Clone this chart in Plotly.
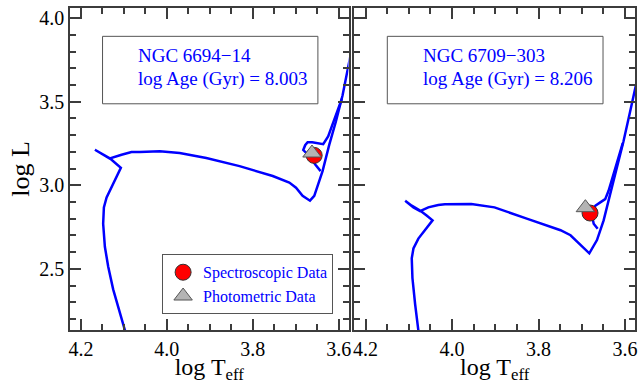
import plotly.graph_objects as go

# ---------------- data ----------------
panel_titles = ["NGC 6694\u221214", "NGC 6709\u2212303"]
panel_ages = ["8.003", "8.206"]

# NGC 6694-14 isochrone: main sequence -> hook -> Hertzsprung gap -> red giant branch
iso1_main_logT = [4.094, 4.0979, 4.1095, 4.125, 4.1366, 4.1443, 4.1483, 4.1466, 4.1403, 4.1287,
                  4.1171, 4.1071, 4.1287, 4.1489, 4.1675, 4.1536, 4.1327, 4.1055, 4.0823, 4.063,
                  4.0166, 3.9702, 3.9082, 3.8308, 3.7535, 3.7149, 3.6993, 3.684, 3.6668, 3.6568,
                  3.6529, 3.6375, 3.622, 3.6066, 3.591, 3.574, 3.563]
iso1_main_logL = [2.10, 2.135, 2.239, 2.377, 2.514, 2.632, 2.770, 2.868, 2.927, 2.986,
                  3.045, 3.105, 3.153, 3.184, 3.2125, 3.19, 3.161, 3.183, 3.199, 3.199,
                  3.203, 3.193, 3.1635, 3.1145, 3.0555, 3.016, 2.986, 2.937, 2.908, 2.937,
                  2.967, 3.085, 3.242, 3.380, 3.537, 3.754, 3.90]
# NGC 6694-14 isochrone: core helium burning loop -> early AGB
iso1_heb_logT = [3.642, 3.654, 3.668, 3.6824, 3.678, 3.6723, 3.6615, 3.6476, 3.636, 3.6245,
                 3.6129, 3.5925]
iso1_heb_logL = [3.085, 3.123, 3.175, 3.211, 3.240, 3.258, 3.258, 3.252, 3.246, 3.293,
                 3.376, 3.518]

# NGC 6709-303 isochrone: main sequence -> hook -> Hertzsprung gap -> red giant branch
iso2_main_logT = [4.075, 4.0778, 4.0853, 4.0915, 4.0931, 4.0892, 4.0778, 4.0624, 4.0472, 4.045,
                  4.0587, 4.0739, 4.0931, 4.1083, 4.0892, 4.0739, 4.0548, 4.0319, 4.0165, 3.9555,
                  3.9018, 3.8255, 3.7491, 3.7261, 3.7032, 3.6826, 3.6649, 3.6495, 3.6344, 3.619,
                  3.6037, 3.5885, 3.5755, 3.562]
iso2_main_logL = [2.10, 2.131, 2.288, 2.445, 2.563, 2.622, 2.681, 2.731, 2.780, 2.790,
                  2.819, 2.849, 2.878, 2.908, 2.868, 2.845, 2.868, 2.882, 2.886, 2.888,
                  2.868, 2.799, 2.731, 2.701, 2.642, 2.593, 2.672, 2.790, 2.947, 3.104,
                  3.262, 3.439, 3.596, 3.75]
# NGC 6709-303 isochrone: core helium burning loop -> early AGB
iso2_heb_logT = [3.6633, 3.6725, 3.6764, 3.6688, 3.6573, 3.6459, 3.6381, 3.6266, 3.6151, 3.6053]
iso2_heb_logL = [2.740, 2.770, 2.819, 2.878, 2.898, 2.917, 2.967, 3.065, 3.163, 3.252]

# observed positions (one star per cluster)
spec_logT = [3.657, 3.681]
spec_logL = [3.179, 2.834]
phot_logT = [3.6621, 3.6917]
phot_logL = [3.193, 2.866]

x_range = [4.2255, 3.577]
y_range = [2.134, 4.061]

BLUE = "#0000ff"
FRAME = "#3c3c3c"
FONT = "Liberation Serif"

fig = go.Figure()

tracks = [[(iso1_main_logT, iso1_main_logL), (iso1_heb_logT, iso1_heb_logL)],
          [(iso2_main_logT, iso2_main_logL), (iso2_heb_logT, iso2_heb_logL)]]
for i, panel in enumerate(tracks):
    xa = "x" if i == 0 else "x2"
    ya = "y" if i == 0 else "y2"
    for tx, ty in panel:
        fig.add_trace(go.Scatter(x=tx, y=ty, mode="lines", xaxis=xa, yaxis=ya,
                                 line=dict(color=BLUE, width=2.5), showlegend=False,
                                 hoverinfo="skip"))
for i in range(2):
    xa = "x" if i == 0 else "x2"
    ya = "y" if i == 0 else "y2"
    fig.add_trace(go.Scatter(x=[spec_logT[i]], y=[spec_logL[i]], mode="markers",
                             xaxis=xa, yaxis=ya, name="Spectroscopic Data",
                             marker=dict(symbol="circle", size=16, color="#ff0000",
                                         line=dict(color="#333333", width=1)),
                             showlegend=(i == 0), legendrank=1))
for i in range(2):
    xa = "x" if i == 0 else "x2"
    ya = "y" if i == 0 else "y2"
    fig.add_trace(go.Scatter(x=[phot_logT[i]], y=[phot_logL[i]], mode="markers",
                             xaxis=xa, yaxis=ya, name="Photometric Data",
                             marker=dict(symbol="triangle-up", size=16, color="#b4b4b4",
                                         line=dict(color="#555555", width=1)),
                             showlegend=(i == 0), legendrank=2))

xtitle = dict(text="log T<sub>eff</sub>", font=dict(family=FONT, size=24, color="black"),
              standoff=2)

fig.update_layout(
    width=643, height=384,
    margin=dict(l=70, r=5, t=8, b=50),
    paper_bgcolor="white", plot_bgcolor="white",
    font=dict(family=FONT, color="black"),
    xaxis=dict(domain=[0, 0.493], anchor="y", title=xtitle),
    xaxis2=dict(domain=[0.5035, 1], anchor="y2", title=xtitle),
    yaxis=dict(domain=[0, 1], anchor="x",
               title=dict(text="log L", font=dict(family=FONT, size=26, color="black"),
                          standoff=2)),
    yaxis2=dict(domain=[0, 1], anchor="x2", showticklabels=False),
    showlegend=True,
    legend=dict(x=0.163, y=0.235, xanchor="left", yanchor="top",
                bgcolor="white", bordercolor="#555555", borderwidth=1,
                font=dict(family=FONT, size=16, color=BLUE),
                tracegroupgap=0, itemwidth=30),
)

fig.update_xaxes(range=x_range, showgrid=False, zeroline=False, showline=True,
                 linecolor=FRAME, linewidth=1.5, mirror="allticks",
                 ticks="inside", ticklen=11, tickwidth=2, tickcolor=FRAME,
                 tickfont=dict(family=FONT, size=20, color="black"),
                 tickmode="linear", dtick=0.2, tick0=4.2, tickformat=".1f",
                 minor=dict(ticks="inside", ticklen=6, tickwidth=2, tickcolor=FRAME,
                            dtick=0.05, showgrid=False))
fig.update_yaxes(range=y_range, showgrid=False, zeroline=False, showline=True,
                 linecolor=FRAME, linewidth=1.5, mirror="allticks",
                 ticks="inside", ticklen=11, tickwidth=2, tickcolor=FRAME,
                 tickfont=dict(family=FONT, size=20, color="black"),
                 tickmode="linear", dtick=0.5, tick0=2.5, tickformat=".1f",
                 minor=dict(ticks="inside", ticklen=6, tickwidth=2, tickcolor=FRAME,
                            dtick=0.1, showgrid=False))

# info boxes
box_x = [(0.1168, 0.890), (0.117, 0.886)]
for i in range(2):
    xr = "x domain" if i == 0 else "x2 domain"
    yr = "y domain" if i == 0 else "y2 domain"
    fig.add_shape(type="rect", xref=xr, yref=yr, x0=box_x[i][0], x1=box_x[i][1],
                  y0=0.7025, y1=0.912, line=dict(color="#555555", width=1),
                  fillcolor="rgba(0,0,0,0)")
    fig.add_annotation(xref=xr, yref=yr, x=0.238, y=0.852,
                       xanchor="left", yanchor="middle", showarrow=False,
                       text=panel_titles[i], font=dict(family=FONT, size=19, color=BLUE))
    fig.add_annotation(xref=xr, yref=yr, x=0.238, y=0.780,
                       xanchor="left", yanchor="middle", showarrow=False,
                       text="log Age (Gyr) = " + panel_ages[i],
                       font=dict(family=FONT, size=19, color=BLUE))

fig.write_html("out.html")
